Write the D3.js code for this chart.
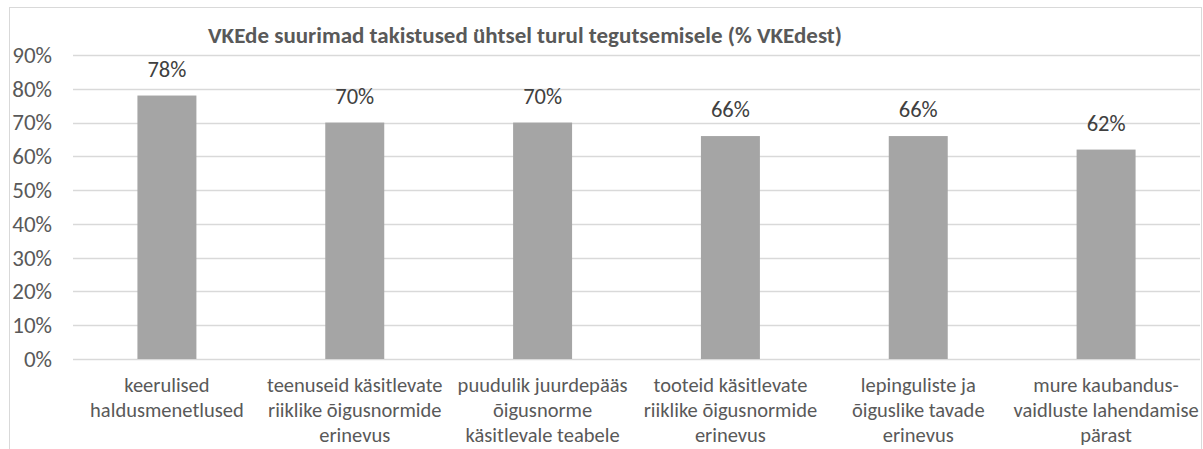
<!DOCTYPE html>
<html>
<head>
<meta charset="utf-8">
<script src="https://cdn.jsdelivr.net/npm/d3@7"></script>
<style>
  body { margin: 0; background: #fff; }
  svg text { font-family: Calibri, Carlito, "Open Sans", sans-serif; }
</style>
</head>
<body>
<div id="chart"></div>
<script>
const title = 'VKEde suurimad takistused ühtsel turul tegutsemisele (% VKEdest)';
const categories = [
  ['keerulised', 'haldusmenetlused'],
  ['teenuseid käsitlevate', 'riiklike õigusnormide', 'erinevus'],
  ['puudulik juurdepääs', 'õigusnorme', 'käsitlevale teabele'],
  ['tooteid käsitlevate', 'riiklike õigusnormide', 'erinevus'],
  ['lepinguliste ja', 'õiguslike tavade', 'erinevus'],
  ['mure kaubandus-', 'vaidluste lahendamise', 'pärast']
];
const values = [78, 70, 70, 66, 66, 62];
const yTicks = [0, 10, 20, 30, 40, 50, 60, 70, 80, 90];

const width = 1203, height = 449;
const margin = { top: 55, right: 3, bottom: 90, left: 73 };

const svg = d3.select('#chart').append('svg')
  .attr('width', width)
  .attr('height', height);

// chart border
svg.append('rect')
  .attr('x', 9.5).attr('y', 7.5)
  .attr('width', 1192).attr('height', 460)
  .attr('fill', 'none')
  .attr('stroke', '#d9d9d9');

const x = d3.scaleBand()
  .domain(d3.range(categories.length))
  .range([margin.left, width - margin.right])
  .paddingInner(0.686)
  .paddingOuter(0.343);

const y = d3.scaleLinear()
  .domain([0, 90])
  .range([height - margin.bottom, margin.top]);

// gridlines
svg.append('g')
  .selectAll('line')
  .data(yTicks)
  .join('line')
  .attr('x1', margin.left)
  .attr('x2', width - margin.right)
  .attr('y1', (d) => Math.round(y(d)) + 0.5)
  .attr('y2', (d) => Math.round(y(d)) + 0.5)
  .attr('stroke', '#d9d9d9')
  .attr('stroke-width', 1.5);

// y axis labels
const yAxis = svg.append('g')
  .attr('transform', `translate(${margin.left - 21},0)`)
  .call(d3.axisLeft(y).tickValues(yTicks).tickFormat((d) => d + '%').tickSize(0).tickPadding(0));
yAxis.select('.domain').remove();
yAxis.selectAll('text')
  .attr('fill', '#595959')
  .style('font-size', '23px');

// bars
svg.append('g')
  .selectAll('rect')
  .data(values)
  .join('rect')
  .attr('x', (d, i) => x(i))
  .attr('y', (d) => y(d))
  .attr('width', x.bandwidth())
  .attr('height', (d) => y(0) - y(d))
  .attr('fill', '#a5a5a5');

// value labels
svg.append('g')
  .selectAll('text')
  .data(values)
  .join('text')
  .attr('x', (d, i) => x(i) + x.bandwidth() / 2)
  .attr('y', (d) => y(d) - 19)
  .attr('text-anchor', 'middle')
  .attr('fill', '#404040')
  .style('font-size', '22.5px')
  .text((d) => d + '%');

// category labels
const cat = svg.append('g')
  .selectAll('text')
  .data(categories)
  .join('text')
  .attr('x', (d, i) => x(i) + x.bandwidth() / 2)
  .attr('y', 392)
  .attr('text-anchor', 'middle')
  .attr('fill', '#595959')
  .style('font-size', '20.5px');
cat.selectAll('tspan')
  .data((d) => d)
  .join('tspan')
  .attr('x', function () { return this.parentNode.getAttribute('x'); })
  .attr('dy', (d, i) => (i === 0 ? 0 : 25))
  .text((d) => d);

// title
svg.append('text')
  .attr('x', 208)
  .attr('y', 43)
  .attr('fill', '#595959')
  .style('font-size', '22px')
  .style('font-weight', 'bold')
  .attr('textLength', 634)
  .attr('lengthAdjust', 'spacingAndGlyphs')
  .text(title);
</script>
</body>
</html>
